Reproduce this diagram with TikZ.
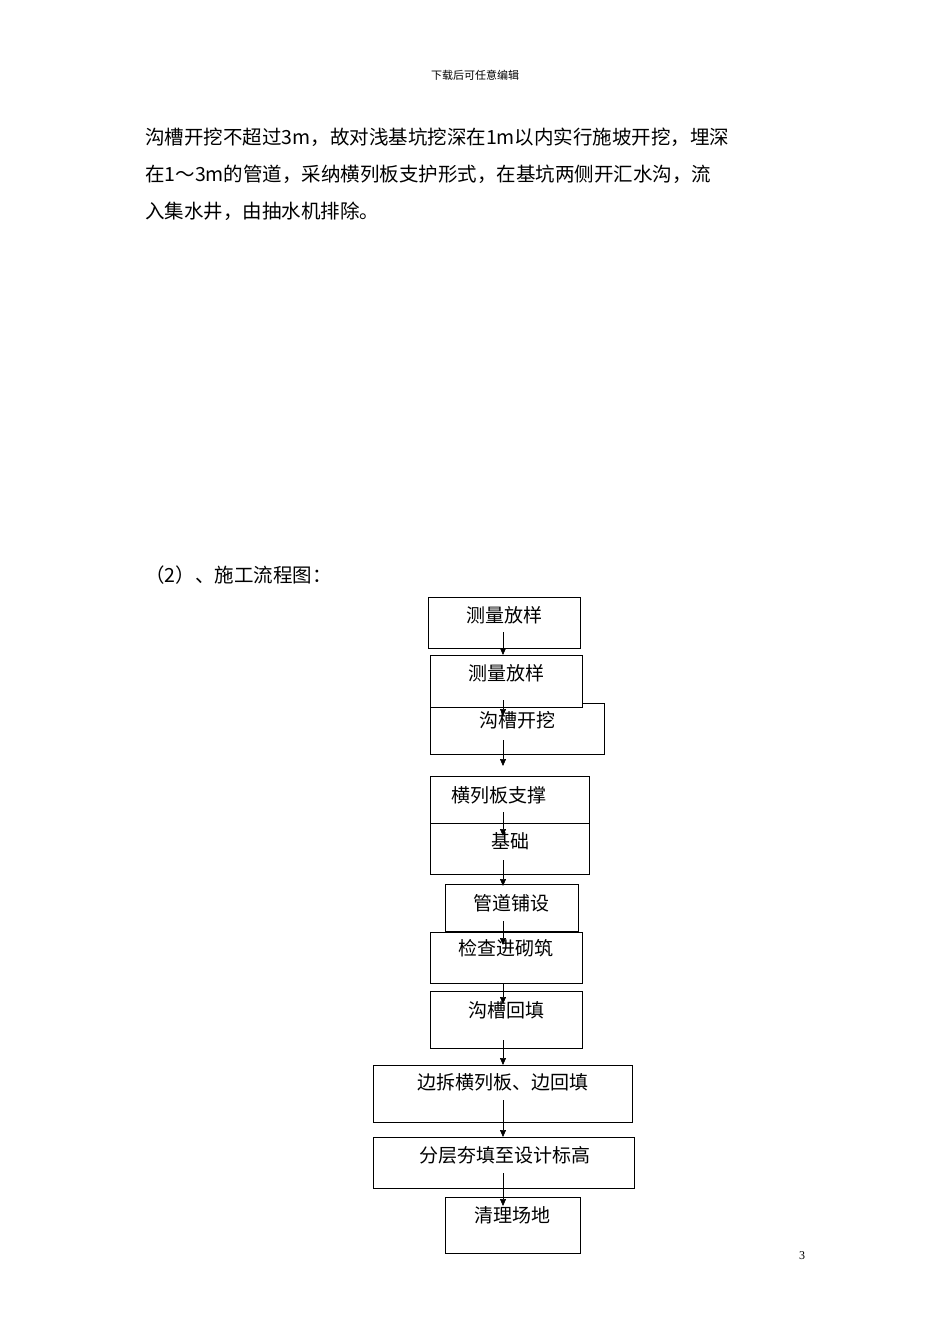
\documentclass[tikz,border=0pt]{standalone}
\usepackage{fontspec}
\setmainfont{Liberation Serif}
\newfontfamily\cjk{Noto Sans CJK SC}
\usetikzlibrary{arrows.meta}
\begin{document}
\begin{tikzpicture}[x=1pt,y=-1pt,
  bx/.style={draw,line width=0.8pt,fill=white},
  lb/.style={font=\cjk\fontsize{19}{19}\selectfont,inner sep=0pt},
  ar/.style={-{Triangle[length=7pt,width=6pt]},line width=0.7pt}]
\useasboundingbox (0,0) rectangle (950,1344);
\fill[white] (0,0) rectangle (950,1344);
\node[font=\cjk\fontsize{11}{11}\selectfont] (hd) at (475,75) {下载后可任意编辑};
\begin{scope}[every node/.style={anchor=west,inner sep=0pt,font=\cjk\fontsize{19.5}{19.5}\selectfont}]
\node (l1) at (145,137) {沟槽开挖不超过3m，故对浅基坑挖深在1m以内实行施坡开挖，埋深};
\node (l2) at (145,174) {在1～3m的管道，采纳横列板支护形式，在基坑两侧开汇水沟，流};
\node (l3) at (145,211) {入集水井，由抽水机排除。};
\node (l4) at (145,575) {（2）、施工流程图：};
\end{scope}
\node[font=\fontsize{12}{12}\selectfont] (pg) at (802,1256) {3};
% boxes
\draw[bx] (428,597) rectangle (580,648);
\draw[bx] (430,703) rectangle (604,754);
\draw[bx] (430,655) rectangle (582,707);
\draw[bx] (430,776) rectangle (589,823);
\draw[bx] (430,823) rectangle (589,874);
\draw[bx] (445,884) rectangle (578,931);
\draw[bx] (430,932) rectangle (582,983);
\draw[bx] (430,991) rectangle (582,1048);
\draw[bx] (373,1065) rectangle (632,1122);
\draw[bx] (373,1137) rectangle (634,1188);
\draw[bx] (445,1197) rectangle (580,1253);
\node[lb] (t1) at (504,615) {测量放样};
\node[lb] (t2) at (506,673) {测量放样};
\node[lb] (t3) at (517,720) {沟槽开挖};
\node[lb] (t4) at (499,795) {横列板支撑};
\node[lb] (t5) at (510,841) {基础};
\node[lb] (t6) at (511,903) {管道铺设};
\node[lb] (t7) at (506,948) {检查进砌筑};
\node[lb] (t8) at (506,1010) {沟槽回填};
\node[lb] (t9) at (503,1082) {边拆横列板、边回填};
\node[lb] (t10) at (505,1155) {分层夯填至设计标高};
\node[lb] (t11) at (512,1215) {清理场地};
% arrows
\coordinate (a1) at (503,632); \coordinate (b1) at (503,655);
\coordinate (a2) at (503,700); \coordinate (b2) at (503,716);
\coordinate (a3) at (503,740); \coordinate (b3) at (503,766);
\coordinate (a4) at (503,812); \coordinate (b4) at (503,836);
\coordinate (a5) at (503,860); \coordinate (b5) at (503,886);
\coordinate (a6) at (503,921); \coordinate (b6) at (503,945);
\coordinate (a7) at (503,983); \coordinate (b7) at (503,1004);
\coordinate (a8) at (503,1040); \coordinate (b8) at (503,1065);
\coordinate (a9) at (503,1100); \coordinate (b9) at (503,1137);
\coordinate (a10) at (503,1173); \coordinate (b10) at (503,1206);
\foreach \i in {1,...,10} \draw[ar] (a\i) -- (b\i);
\end{tikzpicture}
\end{document}
